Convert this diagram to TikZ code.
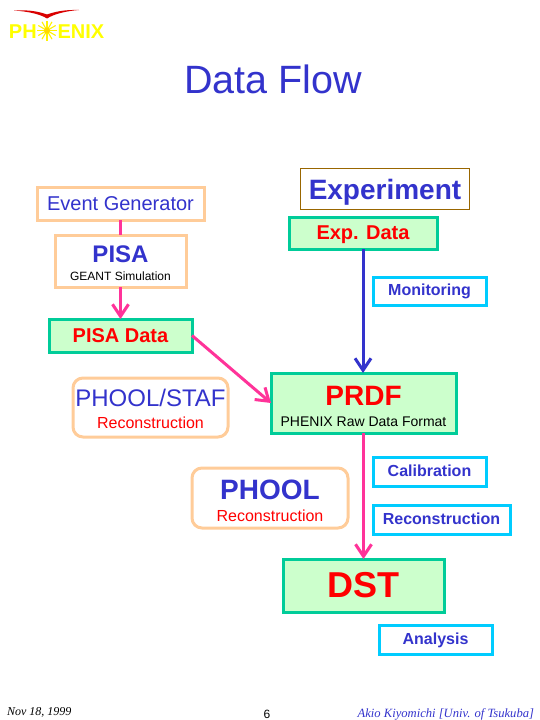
\documentclass[tikz,border=0pt]{standalone}
\usepackage{fontspec}
\setmainfont{Liberation Sans}
\newfontfamily\serifit[ItalicFont=Liberation Serif Italic]{Liberation Serif}
\usetikzlibrary{arrows.meta}
\definecolor{flowblue}{HTML}{3333CC}
\definecolor{peach}{HTML}{FFCC99}
\definecolor{flowgreen}{HTML}{00CC99}
\definecolor{palegreen}{HTML}{CCFFCC}
\definecolor{skyline}{HTML}{00CCFF}
\definecolor{flowpink}{HTML}{FF3399}
\definecolor{flowbrown}{HTML}{996600}
\definecolor{logoyellow}{HTML}{FFFF00}
\newcommand{\fsz}[1]{\fontsize{#1}{#1}\selectfont}
\newcommand{\toppad}[1]{\rule{0pt}{#1pt}}
\tikzset{
  x=1pt,y=-1pt,
  base/.style={inner sep=0pt,outer sep=0pt,align=center,text=flowblue},
  peachbox/.style={base,draw=peach,fill=white,line width=3pt},
  peachround/.style={peachbox,rounded corners=10pt},
  databox/.style={base,draw=flowgreen,fill=palegreen,line width=3pt,text=red},
  toolbox/.style={base,draw=skyline,fill=white,line width=3pt,font=\bfseries\fsz{16},text height=11.5pt,text depth=2pt},
  expbox/.style={base,draw=flowbrown,fill=white,line width=1pt,font=\bfseries\fsz{28},text depth=0pt},
  plain/.style={inner sep=0pt,outer sep=0pt},
  flow/.style={line width=3pt,-{Straight Barb[length=12pt,width=16pt,line width=3pt]}},
}
\begin{document}
\begin{tikzpicture}
\useasboundingbox (0,0) rectangle (540,720);
% logo
\fill[red!85!black] (14,10.5) .. controls (30,9.5) and (40,12) .. (47,14.5) .. controls (54,12) and (64,9.5) .. (79,10) .. controls (66,11) and (54,14) .. (47,18.5) .. controls (40,14) and (28,11.5) .. (14,10.5) -- cycle;
\node[plain,text=logoyellow,font=\bfseries\fsz{20},anchor=base west] (logoa) at (9,38) {PH};
\node[plain,text=logoyellow,font=\bfseries\fsz{20},anchor=base west] (logob) at (57.5,38) {ENIX};
\foreach \a in {0,30,...,330}
  \draw[logoyellow!90!orange,line width=1.1pt] (47,30.5) -- ++(\a:10);
\fill[logoyellow!70!orange] (47,30.5) circle (3);
% title
\node[plain,text=flowblue,font=\fsz{39.5}] (title) at (273,79) {Data Flow};
% boxes
\node[peachbox,font=\fsz{20},minimum width=167pt,minimum height=33pt] (evgen) at (120.5,203.5) {Event Generator};
\node[peachbox,minimum width=131pt,minimum height=52pt] (pisa) at (120.5,261) {{\bfseries\fsz{24}\toppad{21.2}PISA}\\[6pt]{\color{black}\fsz{12}GEANT Simulation}};
\node[databox,font=\bfseries\fsz{20},minimum width=143pt,minimum height=33pt] (pisadata) at (120.5,335.5) {PISA Data};
\node[peachround,minimum width=155pt,minimum height=59pt] (staf) at (150.5,407.5) {{\fsz{24}\toppad{20.2}PHOOL/STAF}\\[10pt]{\color{red}\fsz{16}Reconstruction}};
\node[expbox,minimum width=169pt,minimum height=41pt] (exper) at (385,189) {Experiment};
\node[databox,font=\bfseries\fsz{20},text depth=0pt,minimum width=148pt,minimum height=32pt] (expdata) at (363,233) {Exp. Data};
\node[toolbox,minimum width=113pt,minimum height=28pt] (monitor) at (429.5,291) {Monitoring};
\node[databox,minimum width=185pt,minimum height=60pt] (prdf) at (363.5,403) {{\bfseries\fsz{28}\toppad{26}PRDF}\\[9pt]{\color{black}\fsz{14}PHENIX Raw Data Format}};
\node[toolbox,minimum width=113pt,minimum height=29pt] (calib) at (429.5,471.5) {Calibration};
\node[toolbox,minimum width=137pt,minimum height=29pt] (recon) at (441.5,519.5) {Reconstruction};
\node[peachround,minimum width=156pt,minimum height=60pt] (phool) at (270,498) {{\bfseries\fsz{28}\toppad{25}PHOOL}\\[10pt]{\color{red}\fsz{16}Reconstruction}};
\node[databox,font=\bfseries\fsz{36},minimum width=161pt,minimum height=53pt] (dst) at (363.5,585.5) {DST};
\node[toolbox,minimum width=113pt,minimum height=29pt] (analysis) at (435.5,639.5) {Analysis};
% connectors
\draw[flowpink,line width=3pt] (evgen) -- (pisa);
\draw[flow,flowpink] (pisa) -- (pisadata);
\draw[flow,flowpink] (pisadata.east) -- (prdf.west);
\draw[flow,flowblue] (expdata.south) -- (expdata.south |- prdf.north);
\draw[flow,flowpink] (prdf.south) -- (prdf.south |- dst.north);
% footer
\node[plain,anchor=base west,font=\serifit\itshape\fsz{12}] (date) at (7,715) {Nov 18, 1999};
\node[plain,font=\fsz{12}] (page) at (267,714) {6};
\node[plain,anchor=base east,text=flowblue,font=\serifit\itshape\fsz{12.6}] (author) at (534,717) {Akio Kiyomichi [Univ. of Tsukuba]};
\end{tikzpicture}
\end{document}
